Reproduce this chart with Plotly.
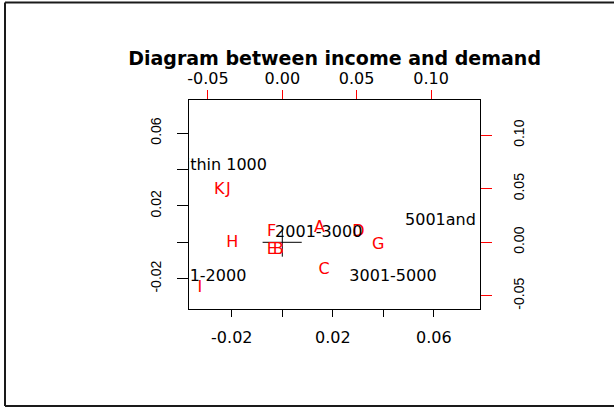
import plotly.graph_objects as go

# Row points (red letters), primary axes
row_labels = ["A", "B", "C", "D", "E", "F", "G", "H", "I", "J", "K"]
row_x = [0.0147, -0.0016, 0.0166, 0.0301, -0.0042, -0.0042, 0.0380, -0.0198, -0.0326, -0.0214, -0.0250]
row_y = [0.0077, -0.0040, -0.0152, 0.0054, -0.0040, 0.0058, -0.0016, -0.0005, -0.0253, 0.0287, 0.0287]

# Column points (black income labels), secondary axes
col_labels = ["within 1000", "1001-2000", "2001-3000", "3001-5000", "5001and above"]
col_x = [-0.0420, -0.0535, 0.0245, 0.0744, 0.1245]
col_y = [0.0713, -0.0321, 0.0084, -0.0321, 0.0199]

# Cross at the origin
cross_x = [-0.0078, 0.0077, None, 0.0, 0.0]
cross_y = [0.0, 0.0, None, 0.0073, -0.0079]

# Axis ticks
x_ticks = [-0.02, 0.0, 0.02, 0.04, 0.06]
x_ticktext = ["-0.02", "", "0.02", "", "0.06"]
y_ticks = [-0.02, 0.0, 0.02, 0.04, 0.06]
y_ticktext = ["-0.02", "", "0.02", "", "0.06"]
x2_ticks = [-0.05, 0.0, 0.05, 0.10]
x2_ticktext = ["-0.05", "0.00", "0.05", "0.10"]
y2_ticks = [-0.05, 0.0, 0.05, 0.10]
y2_ticktext = ["-0.05", "0.00", "0.05", "0.10"]

title_text = "Diagram between income and demand"

HFONT = "DejaVu Sans"
VFONT = "Liberation Sans, Arial, sans-serif"

fig = go.Figure()
fig.add_trace(go.Scatter(x=cross_x, y=cross_y, mode="lines",
                         line=dict(color="black", width=1), hoverinfo="skip",
                         showlegend=False))
fig.add_trace(go.Scatter(x=row_x, y=row_y, mode="text", text=row_labels,
                         textposition="middle center",
                         textfont=dict(family=HFONT, size=16, color="red"),
                         showlegend=False))
fig.add_trace(go.Scatter(x=col_x, y=col_y, mode="text", text=col_labels,
                         textposition="middle center", xaxis="x2", yaxis="y2",
                         textfont=dict(family=HFONT, size=16, color="black"),
                         showlegend=False))

L, R, T, B = 189, 134, 100, 99
W, H = 614, 408
pw, ph = W - L - R, H - T - B

def px(xp):
    return (xp - L) / pw

def py(yp):
    return (H - B - yp) / ph

border = dict(color="#1a1a1a", width=2)
shapes = [
    dict(type="line", xref="paper", yref="paper", x0=px(5), x1=px(5), y0=py(2.5), y1=py(406), line=border),
    dict(type="line", xref="paper", yref="paper", x0=px(5), x1=px(620), y0=py(2.5), y1=py(2.5), line=border),
    dict(type="line", xref="paper", yref="paper", x0=px(5), x1=px(620), y0=py(406), y1=py(406), line=border),
]

fig.update_layout(
    width=W, height=H,
    margin=dict(l=L, r=R, t=T, b=B, autoexpand=False),
    paper_bgcolor="white", plot_bgcolor="white",
    showlegend=False,
    title=dict(text="<b>" + title_text + "</b>", x=(334.6) / W, xanchor="center",
               y=1 - 58.5 / H, yanchor="middle",
               font=dict(family=HFONT, size=19, color="black")),
    xaxis=dict(range=[-0.03695, 0.0783], tickvals=x_ticks, ticktext=x_ticktext,
               ticks="outside", ticklen=7, tickcolor="black", tickwidth=1,
               showline=True, mirror=True, linecolor="black", linewidth=1,
               showgrid=False, zeroline=False, ticklabelstandoff=7,
               tickfont=dict(family=HFONT, size=16, color="black")),
    yaxis=dict(range=[-0.03665, 0.07819], tickvals=y_ticks, ticktext=y_ticktext,
               ticks="outside", ticklen=11, tickcolor="black", tickwidth=1,
               showline=True, mirror=True, linecolor="black", linewidth=1,
               showgrid=False, zeroline=False, tickangle=-90, ticklabelstandoff=10,
               tickfont=dict(family=VFONT, size=14, color="black")),
    xaxis2=dict(range=[-0.0627, 0.1329], tickvals=x2_ticks, ticktext=x2_ticktext,
                overlaying="x", side="top", anchor="y",
                ticks="outside", ticklen=9, tickcolor="red", tickwidth=1,
                showline=False, showgrid=False, zeroline=False, ticklabelstandoff=0,
                tickfont=dict(family=HFONT, size=16, color="black")),
    yaxis2=dict(range=[-0.06234, 0.13299], tickvals=y2_ticks, ticktext=y2_ticktext,
                overlaying="y", side="right", anchor="x",
                ticks="outside", ticklen=11, tickcolor="red", tickwidth=1,
                showline=False, showgrid=False, zeroline=False, tickangle=-90,
                ticklabelstandoff=15,
                tickfont=dict(family=VFONT, size=14, color="black")),
    shapes=shapes,
)

fig.write_html("out.html", config={"displayModeBar": False},
               post_script="document.body.style.margin='0';document.body.style.padding='0';")
